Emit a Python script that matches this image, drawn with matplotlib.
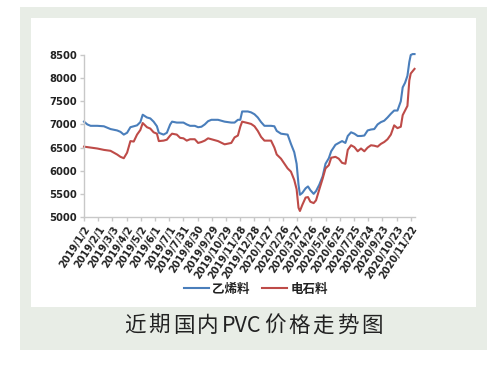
import matplotlib
matplotlib.use("Agg")
import matplotlib.pyplot as plt
from matplotlib.patches import Rectangle
import numpy as np
import pandas as pd

# Datos (precio PVC, yuan/t)
fechas = ["2019-01-02", "2019-01-09", "2019-01-16", "2019-01-30", "2019-02-13", "2019-02-27",
          "2019-03-13", "2019-03-20", "2019-03-27", "2019-04-03", "2019-04-10", "2019-04-17",
          "2019-04-24", "2019-05-01", "2019-05-06", "2019-05-15", "2019-05-22", "2019-05-29",
          "2019-06-05", "2019-06-09", "2019-06-19", "2019-06-26", "2019-07-03", "2019-07-07",
          "2019-07-17", "2019-07-24", "2019-07-31", "2019-08-07", "2019-08-14", "2019-08-24",
          "2019-08-31", "2019-09-07", "2019-09-14", "2019-09-21", "2019-09-28", "2019-10-12",
          "2019-10-26", "2019-11-09", "2019-11-16", "2019-11-23", "2019-11-28", "2019-12-02",
          "2019-12-14", "2019-12-21", "2019-12-28", "2020-01-04", "2020-01-11", "2020-01-18",
          "2020-02-01", "2020-02-08", "2020-02-13", "2020-02-22", "2020-03-07", "2020-03-14",
          "2020-03-21", "2020-03-26", "2020-03-30", "2020-04-02", "2020-04-07", "2020-04-14",
          "2020-04-19", "2020-04-24", "2020-05-01", "2020-05-06", "2020-05-13", "2020-05-20",
          "2020-05-26", "2020-06-02", "2020-06-07", "2020-06-16", "2020-06-23", "2020-06-30",
          "2020-07-07", "2020-07-12", "2020-07-19", "2020-07-26", "2020-08-02", "2020-08-09",
          "2020-08-16", "2020-08-23", "2020-08-30", "2020-09-06", "2020-09-13", "2020-09-20",
          "2020-09-27", "2020-10-04", "2020-10-11", "2020-10-18", "2020-10-25", "2020-11-01",
          "2020-11-05", "2020-11-10", "2020-11-15", "2020-11-19", "2020-11-22", "2020-11-26",
          "2020-11-30"]

etileno = [7060, 7000, 6970, 6970, 6960, 6900,
           6870, 6840, 6780, 6820, 6940, 6960,
           6980, 7050, 7210, 7150, 7130, 7060,
           6960, 6820, 6780, 6820, 7000, 7060,
           7040, 7040, 7040, 7000, 6970, 6970,
           6940, 6950, 7000, 7070, 7100, 7100,
           7060, 7040, 7040, 7100, 7100, 7280,
           7280, 7260, 7220, 7150, 7050, 6970,
           6970, 6960, 6860, 6800, 6780, 6580,
           6400, 6150, 5700, 5480, 5520, 5620,
           5660, 5580, 5500, 5560, 5700, 5880,
           6150, 6270, 6420, 6560, 6600, 6640,
           6600, 6750, 6830, 6800, 6750, 6750,
           6760, 6870, 6890, 6900, 7000, 7050,
           7080, 7150, 7230, 7300, 7300, 7500,
           7800, 7900, 8050, 8350, 8500, 8520,
           8520]

carburo = [6520, 6510, 6500, 6480, 6450, 6430,
           6350, 6300, 6270, 6390, 6640, 6630,
           6780, 6880, 7030, 6940, 6910, 6830,
           6800, 6640, 6650, 6670, 6760, 6800,
           6780, 6710, 6700, 6650, 6680, 6680,
           6600, 6620, 6650, 6700, 6680, 6640,
           6570, 6600, 6720, 6760, 6950, 7060,
           7030, 7010, 6960, 6860, 6730, 6650,
           6650, 6500, 6350, 6260, 6050, 5980,
           5800, 5600, 5200, 5130, 5260, 5420,
           5430, 5330, 5300, 5360, 5600, 5830,
           6050, 6120, 6280, 6300, 6260, 6170,
           6150, 6450, 6550, 6510, 6420, 6480,
           6420, 6500, 6550, 6540, 6520, 6580,
           6620, 6680, 6780, 6980, 6920, 6950,
           7200, 7300, 7400, 7950, 8100, 8150,
           8200]

etiquetas = ["2019/1/2", "2019/2/1", "2019/3/3", "2019/4/2", "2019/5/2", "2019/6/1",
             "2019/7/1", "2019/7/31", "2019/8/30", "2019/9/29", "2019/10/29", "2019/11/28",
             "2019/12/28", "2020/1/27", "2020/2/26", "2020/3/27", "2020/4/26", "2020/5/26",
             "2020/6/25", "2020/7/25", "2020/8/24", "2020/9/23", "2020/10/23", "2020/11/22"]

nombres = ["乙烯料", "电石料"]
titulo = ["近", "期", "国", "内", "PVC", "价", "格", "走", "势", "图"]

plt.rcParams['font.family'] = ['Noto Sans CJK SC', 'DejaVu Sans']

W, H = 501, 366
fig = plt.figure(figsize=(W / 100, H / 100), dpi=100)
fig.patch.set_facecolor("white")

# Fondo verde y panel blanco (en pixeles)
def px_rect(x0, y0, x1, y1, color):
    fig.patches.append(Rectangle((x0 / W, 1 - y1 / H), (x1 - x0) / W, (y1 - y0) / H,
                                 transform=fig.transFigure, facecolor=color,
                                 edgecolor="none", zorder=-10))

px_rect(20, 7, 487, 350, "#e8ede6")
px_rect(31, 18, 476, 307, "white")

ax = fig.add_axes([84 / W, 1 - 217 / H, (415 - 84) / W, (217 - 55) / H])
ax.set_facecolor("none")

x = pd.to_datetime(fechas)
ax.plot(x, etileno, color="#4a7ebb", lw=1.5, label=nombres[0], clip_on=False)
ax.plot(x, carburo, color="#be4b48", lw=1.5, label=nombres[1], clip_on=False)

ax.set_xlim(pd.Timestamp("2019-01-02"), pd.Timestamp("2020-12-01"))
ax.set_ylim(5000, 8500)
ax.set_yticks(np.arange(5000, 8501, 500))

ticks = pd.to_datetime(etiquetas, format="%Y/%m/%d")
ax.set_xticks(ticks)
ax.set_xticklabels(etiquetas, rotation=57, ha="right", rotation_mode="anchor",
                   fontsize=7, fontweight="bold", color="#222222", family="DejaVu Sans")
for lab in ax.get_yticklabels():
    lab.set_fontsize(7.2)
    lab.set_fontweight("bold")
    lab.set_color("#222222")
    lab.set_family("DejaVu Sans")

for s in ["top", "right"]:
    ax.spines[s].set_visible(False)
for s in ["left", "bottom"]:
    ax.spines[s].set_color("#c8c8c8")
    ax.spines[s].set_linewidth(1.0)
ax.tick_params(axis="both", color="#c8c8c8", length=3, width=1, pad=2)

leg = fig.legend(loc="center", bbox_to_anchor=(256 / W, 1 - 289 / H), ncol=2,
                 frameon=False, fontsize=9, handlelength=2.0, handletextpad=0.3,
                 columnspacing=1.0)
for t in leg.get_texts():
    t.set_fontweight("bold")
    t.set_color("#222222")

# Titulo con espaciado entre caracteres
fig.canvas.draw()
renderer = fig.canvas.get_renderer()
x_izq, x_der = 124, 383
partes = [fig.text(0, 0, ch, fontsize=15.5, color="#222222", va="center") for ch in titulo]
anchos = [p.get_window_extent(renderer).width for p in partes]
hueco = (x_der - x_izq - sum(anchos)) / (len(partes) - 1)
pos = x_izq
for p, w in zip(partes, anchos):
    p.set_position((pos / W, 1 - 326 / H))
    pos += w + hueco

fig.savefig("out.png", dpi=100, facecolor=fig.get_facecolor())
